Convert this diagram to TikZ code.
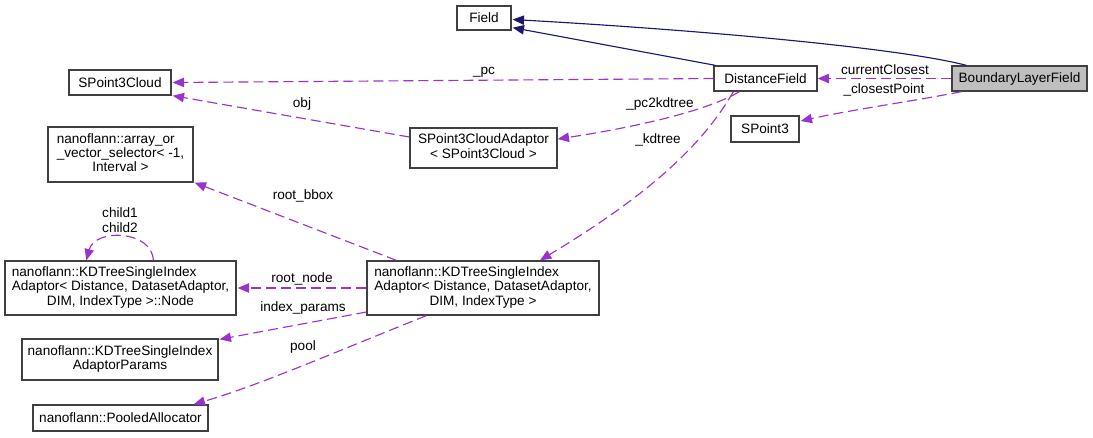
\documentclass[tikz,border=0pt]{standalone}
\usepackage{fontspec}
\setmainfont{Liberation Sans}
\usetikzlibrary{arrows.meta,calc}
\definecolor{edgepurple}{HTML}{9A32CD}
\definecolor{edgenavy}{HTML}{191970}
\definecolor{boxgray}{HTML}{BFBFBF}
\definecolor{boxline}{HTML}{404040}
\tikzset{
  cls/.style={draw=boxline, line width=1pt, fill=white, inner sep=0pt, align=center,
    font=\fontsize{10.2}{10.75}\selectfont},
  lbl/.style={inner sep=0pt, font=\fontsize{10.2}{10.75}\selectfont, align=center},
  usage/.style={draw=edgepurple, line width=0.85pt, dash pattern=on 7.5pt off 3.75pt,
    -{Triangle[length=8.5pt,width=7pt]}},
  inherit/.style={draw=edgenavy, line width=0.85pt, -{Triangle[length=8.5pt,width=7pt]}},
}
\newcommand{\mlines}[2]{\begin{tabular}{@{}l@{}}#1\\\multicolumn{1}{@{}c@{}}{#2}\end{tabular}}
\newcommand{\mlinesB}[3]{\begin{tabular}{@{}l@{}}#1\\#2\\\multicolumn{1}{@{}c@{}}{#3}\end{tabular}}
\begin{document}
\begin{tikzpicture}[x=0.75pt,y=-0.75pt]
\useasboundingbox (0,0) rectangle (1093,437);
% nodes
\node[cls, minimum width=40.5pt, minimum height=18pt] (field) at (484,18) {Field};
\node[cls, minimum width=77.25pt, minimum height=18.75pt] (df) at (765.5,78.5) {DistanceField};
\node[cls, fill=boxgray, minimum width=101.25pt, minimum height=18.75pt] (blf) at (1019.5,78.5) {BoundaryLayerField};
\node[cls, minimum width=76.5pt, minimum height=18.75pt] (spc) at (120,82.5) {SPoint3Cloud};
\node[cls, minimum width=51pt, minimum height=19.5pt] (sp3) at (765,129) {SPoint3};
\node[cls, minimum width=110.25pt, minimum height=30pt] (adaptor) at (483.5,148)
  {\mlines{SPoint3CloudAdaptor}{< SPoint3Cloud >}};
\node[cls, minimum width=108.75pt, minimum height=41.25pt] (arr) at (120.5,154.5)
  {\mlinesB{nanoflann::array\_or}{\_vector\_selector< -1,}{Interval >}};
\node[cls, minimum width=174pt, minimum height=40.5pt] (kd) at (483,288)
  {\mlinesB{nanoflann::KDTreeSingleIndex}{Adaptor< Distance, DatasetAdaptor,}{DIM, IndexType >}};
\node[cls, minimum width=173.25pt, minimum height=40.5pt] (kdnode) at (120.5,288)
  {\mlinesB{nanoflann::KDTreeSingleIndex}{Adaptor< Distance, DatasetAdaptor,}{DIM, IndexType >::Node}};
\node[cls, minimum width=147pt, minimum height=30.75pt] (params) at (120,359.5)
  {\mlines{nanoflann::KDTreeSingleIndex}{AdaptorParams}};
\node[cls, minimum width=131.25pt, minimum height=19.5pt] (pooled) at (120.5,418) {nanoflann::PooledAllocator};
% inheritance
\draw[inherit] ($(blf.north west)+(15,0)$) .. controls (900,48) and (700,30) .. ($(field.east)+(1,1.5)$);
\draw[inherit] ($(df.north west)+(2,0)$) -- ($(field.south east)+(1,-3)$);
% usage
\draw[usage] (blf.west) -- (df.east);
\node[lbl] (lcc) at (885,70) {currentClosest};
\draw[usage] ($(blf.south west)+(10,0)$) .. controls (920,100) and (850,110) .. ($(sp3.east)+(1,-8)$);
\node[lbl] (lcp) at (884,90) {\_closestPoint};
\draw[usage] (df.west) -- ($(spc.east)+(1,0)$);
\node[lbl] (lpc) at (484,72) {\_pc};
\draw[usage] ($(df.south west)+(26,0)$) .. controls (705,112) and (630,128) .. ($(adaptor.east)+(0,-9)$);
\node[lbl] (lpk) at (660,104) {\_pc2kdtree};
\draw[usage] ($(df.south west)+(20,0)$) .. controls (700,150) and (640,200) .. ($(kd.north)+(57,0)$);
\node[lbl] (lkd) at (658,140) {\_kdtree};
\draw[usage] ($(adaptor.west)+(0,-11)$) -- ($(spc.south east)+(1,0)$);
\node[lbl] (lobj) at (302,104) {obj};
\draw[usage] ($(kd.north west)+(30,0)$) -- ($(arr.south east)+(1,0)$);
\node[lbl] (lbb) at (303,196) {root\_bbox};
\draw[usage] (kd.west) -- ($(kdnode.east)+(1,0)$);
\node[lbl] (lrn) at (302,279) {root\_node};
\draw[usage] ($(kdnode.north west)+(149,0)$) .. controls (152,230) and (95,228) .. ($(kdnode.north west)+(82,0)$);
\node[lbl] (lch) at (120,220) {child1\\child2};
\draw[usage] ($(kd.west)+(0,24)$) -- ($(params.north east)+(1,1)$);
\node[lbl] (lip) at (303,308) {index\_params};
\draw[usage] ($(kd.south west)+(60,0)$) .. controls (340,350) and (260,385) .. ($(pooled.north east)+(-15,0)$);
\node[lbl] (lpo) at (303,347) {pool};
\end{tikzpicture}
\end{document}
